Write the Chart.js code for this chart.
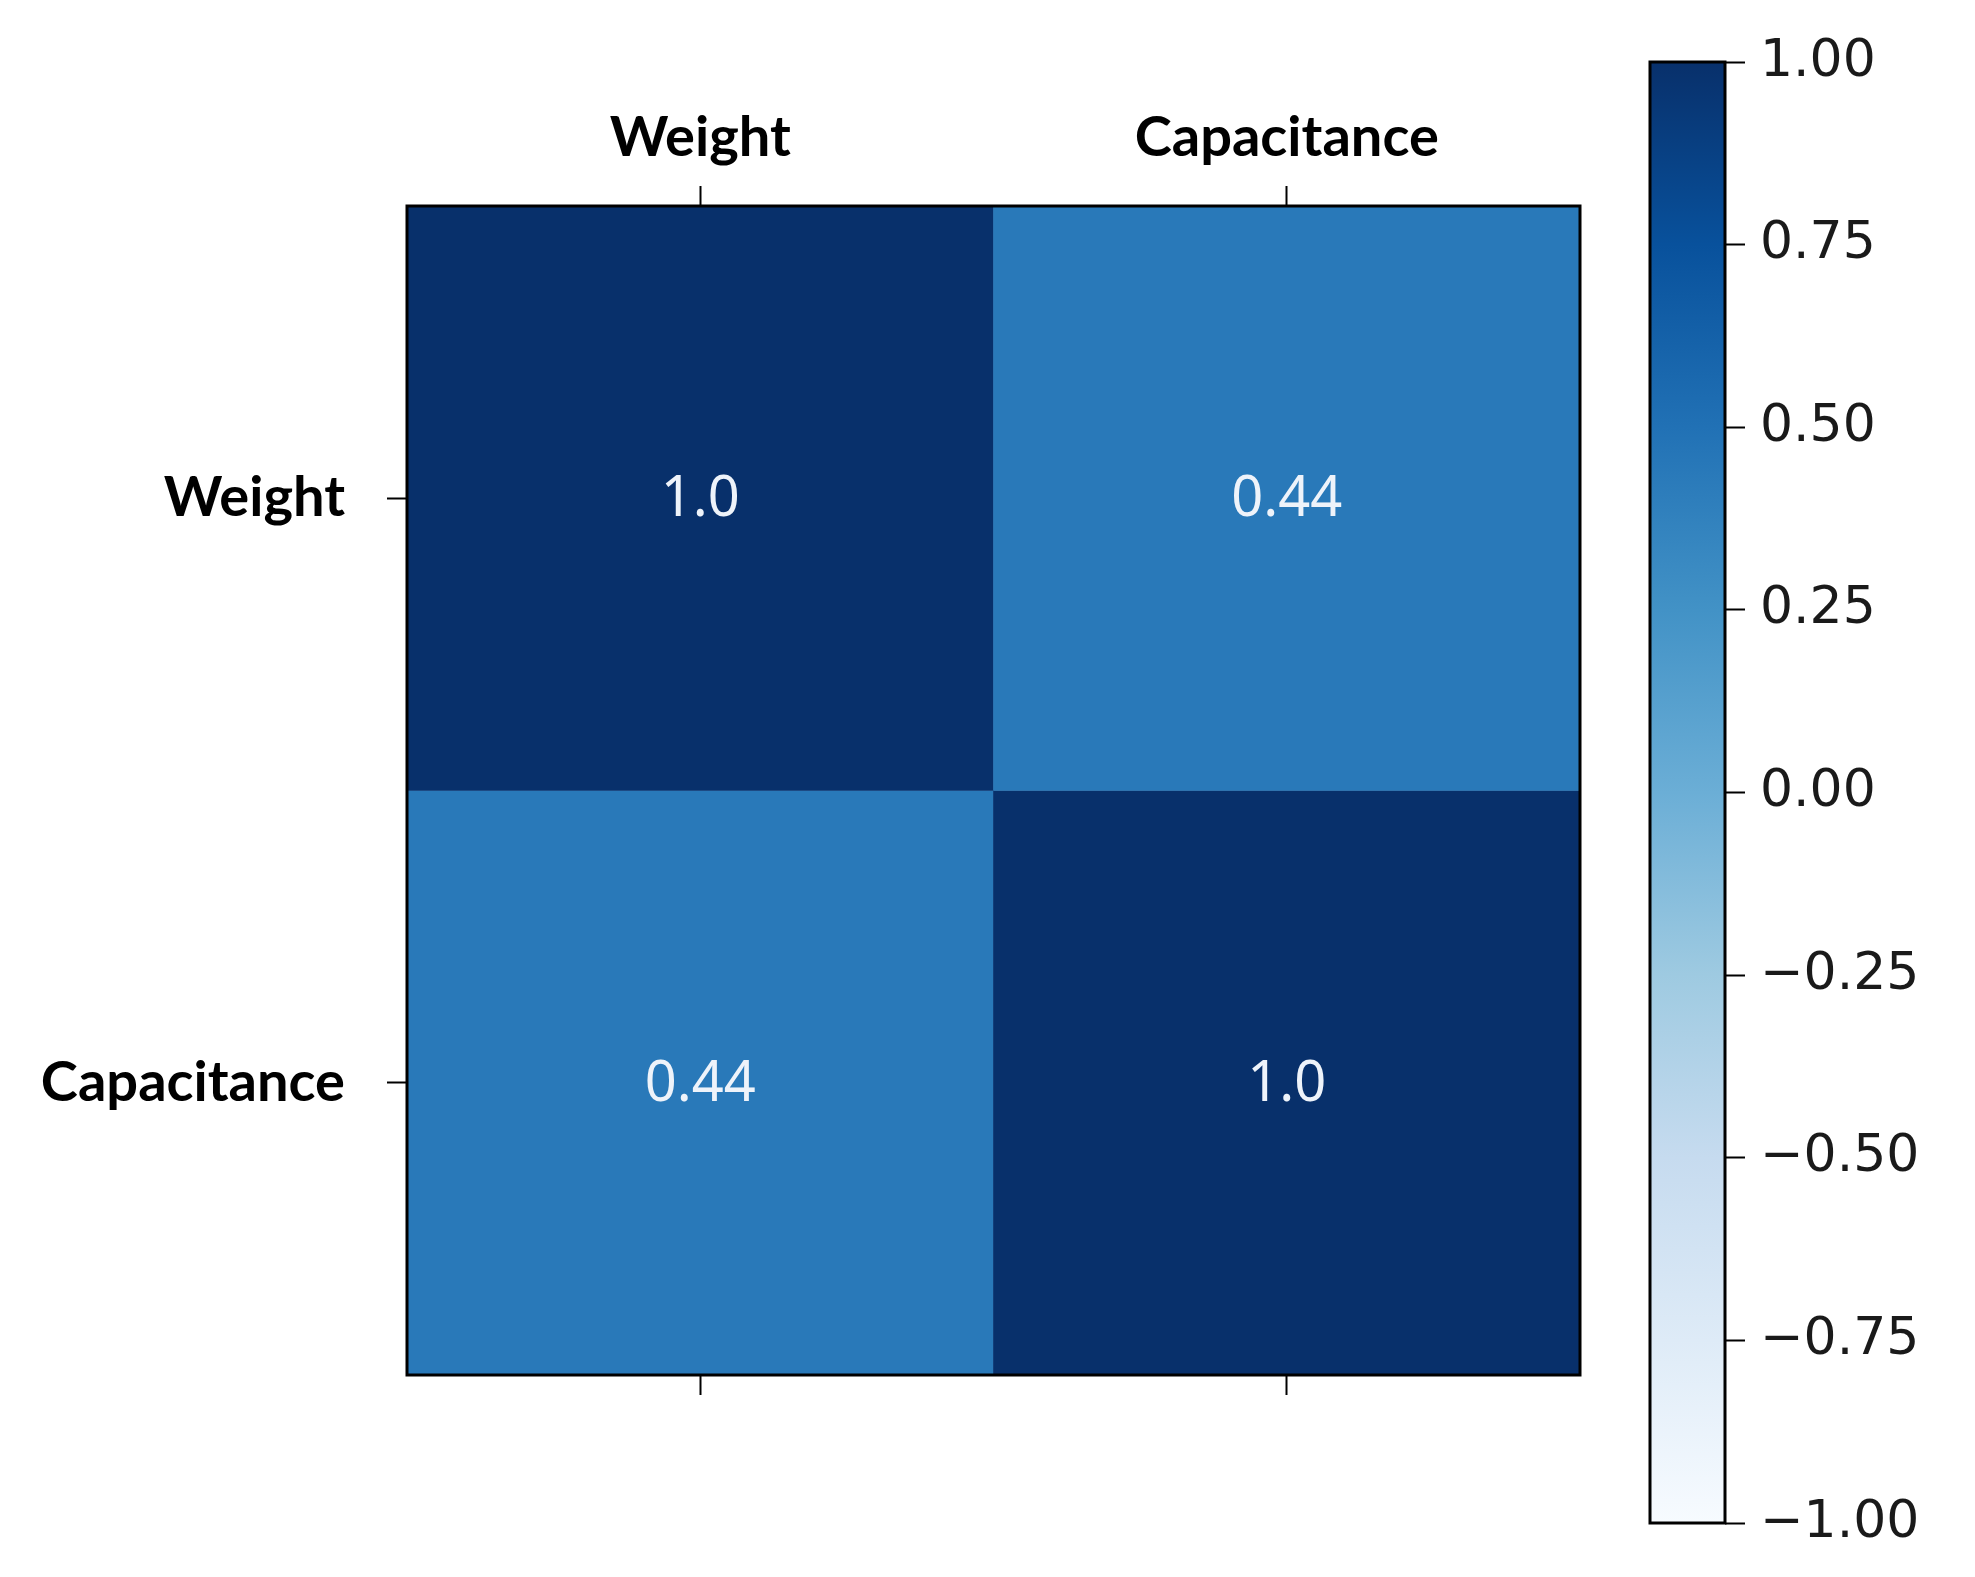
<!DOCTYPE html>
<html>
<head>
<meta charset="utf-8">
<script src="https://cdn.jsdelivr.net/npm/chart.js@4.4.1/dist/chart.umd.min.js"></script>
<style>
  html, body { margin: 0; padding: 0; background: #fff; }
  #wrap { position: relative; width: 1975px; height: 1577px; }
  canvas { position: absolute; left: 0; top: 0; }
</style>
</head>
<body>
<div id="wrap">
  <canvas id="heat" width="1975" height="1577"></canvas>
  <canvas id="cbar" width="1975" height="1577"></canvas>
</div>
<script>
const colLabels = ["Weight", "Capacitance"];
const rowLabels = ["Weight", "Capacitance"];
const corr = [
    [1.0, 0.44],
    [0.44, 1.0]
];
const cellText = [
    ["1.0", "0.44"],
    ["0.44", "1.0"]
];
const cbMin = -1;
const cbMax = 1;
const cbStep = 0.25;

// matplotlib "Blues"
const bluesStops = ["#f7fbff", "#deebf7", "#c6dbef", "#9ecae1", "#6baed6",
                    "#4292c6", "#2171b5", "#08519c", "#08306b"];

const hexToRgb = (h) => [1, 3, 5].map(i => parseInt(h.substr(i, 2), 16));

const blues = (v) => {
    let t = (v - cbMin) / (cbMax - cbMin);
    t = Math.max(0, Math.min(1, t));
    const pos = t * (bluesStops.length - 1);
    const i = Math.min(Math.floor(pos), bluesStops.length - 2);
    const f = pos - i;
    const a = hexToRgb(bluesStops[i]);
    const b = hexToRgb(bluesStops[i + 1]);
    const c = a.map((x, k) => Math.round(x + (b[k] - x) * f));
    return "rgb(" + c.join(",") + ")";
};

const labelFont = { family: "Lato", size: 56, weight: "bold" };

const framePlugin = {
    id: "frame",
    afterDatasetsDraw(chart) {
        const { ctx, chartArea: a } = chart;
        ctx.save();
        ctx.strokeStyle = "#000";
        ctx.lineWidth = 3;
        ctx.strokeRect(a.left, a.top, a.right - a.left, a.bottom - a.top);
        ctx.restore();
    }
};

const cellTextPlugin = {
    id: "cellText",
    afterDatasetsDraw(chart) {
        const { ctx } = chart;
        const xs = chart.scales.x;
        const ys = chart.scales.y;
        ctx.save();
        ctx.fillStyle = "#eef3fa";
        ctx.font = "56px 'Noto Sans'";
        ctx.textAlign = "center";
        ctx.textBaseline = "middle";
        rowLabels.forEach((_, r) => {
            colLabels.forEach((_, c) => {
                ctx.fillText(cellText[r][c], xs.getPixelForValue(c), ys.getPixelForValue(r + 0.5) + 2);
            });
        });
        ctx.restore();
    }
};

const heatDatasets = rowLabels.map((name, r) => ({
    label: name,
    data: colLabels.map(() => [r, r + 1]),
    backgroundColor: corr[r].map(v => blues(v)),
    borderWidth: 0,
    borderSkipped: false,
    barPercentage: 1,
    categoryPercentage: 1,
    grouped: false
}));

new Chart(document.getElementById("heat").getContext("2d"), {
    type: "bar",
    data: { labels: colLabels, datasets: heatDatasets },
    options: {
        responsive: false,
        animation: false,
        devicePixelRatio: 1,
        layout: { padding: { left: 0, top: 0, right: 395, bottom: 0 } },
        plugins: { legend: { display: false }, tooltip: { enabled: false } },
        scales: {
            x: {
                type: "category",
                position: "top",
                offset: true,
                grid: { offset: false, drawOnChartArea: false, tickLength: 20, tickWidth: 2, tickColor: "#000" },
                border: { display: false },
                ticks: { color: "#000", font: labelFont, padding: 14, maxRotation: 0 },
                afterFit: (s) => { s.height = 206; }
            },
            x2: {
                type: "category",
                position: "bottom",
                labels: colLabels,
                offset: true,
                grid: { offset: false, drawOnChartArea: false, tickLength: 20, tickWidth: 2, tickColor: "#000" },
                border: { display: false },
                ticks: { display: false },
                afterFit: (s) => { s.height = 1577 - 1375; }
            },
            y: {
                type: "linear",
                min: 0,
                max: rowLabels.length,
                reverse: true,
                grid: { drawOnChartArea: false, tickLength: 20, tickWidth: 2, tickColor: "#000" },
                border: { display: false },
                afterBuildTicks: (s) => { s.ticks = rowLabels.map((_, i) => ({ value: i + 0.5 })); },
                ticks: {
                    color: "#000",
                    font: labelFont,
                    padding: 42,
                    callback: (v, i) => rowLabels[i]
                },
                afterFit: (s) => { s.width = 407; }
            }
        }
    },
    plugins: [framePlugin, cellTextPlugin]
});

// colour bar
const cbarFill = (context) => {
    const chart = context.chart;
    const ys = chart.scales.y;
    if (!ys) return bluesStops[4];
    const y0 = ys.getPixelForValue(cbMin);
    const y1 = ys.getPixelForValue(cbMax);
    if (!isFinite(y0) || !isFinite(y1) || y0 === y1) return bluesStops[4];
    const g = chart.ctx.createLinearGradient(0, y0, 0, y1);
    bluesStops.forEach((c, i) => g.addColorStop(i / (bluesStops.length - 1), c));
    return g;
};

new Chart(document.getElementById("cbar").getContext("2d"), {
    type: "bar",
    data: {
        labels: [""],
        datasets: [{
            data: [[cbMin, cbMax]],
            backgroundColor: cbarFill,
            borderWidth: 0,
            borderSkipped: false,
            barPercentage: 1,
            categoryPercentage: 1
        }]
    },
    options: {
        responsive: false,
        animation: false,
        devicePixelRatio: 1,
        layout: { padding: { left: 1650, top: 62, right: 0, bottom: 1577 - 1523 } },
        plugins: { legend: { display: false }, tooltip: { enabled: false } },
        scales: {
            x: { display: false },
            y: {
                position: "right",
                min: cbMin,
                max: cbMax,
                grid: { drawOnChartArea: false, tickLength: 20, tickWidth: 2, tickColor: "#000" },
                border: { display: false },
                ticks: {
                    stepSize: cbStep,
                    color: "#1a1a1a",
                    padding: 15,
                    font: { family: "DejaVu Sans", size: 52 },
                    callback: (v) => v.toFixed(2).replace("-", "\u2212")
                },
                afterFit: (s) => { s.width = 1975 - 1725; }
            }
        }
    },
    plugins: [framePlugin]
});
</script>
</body>
</html>
